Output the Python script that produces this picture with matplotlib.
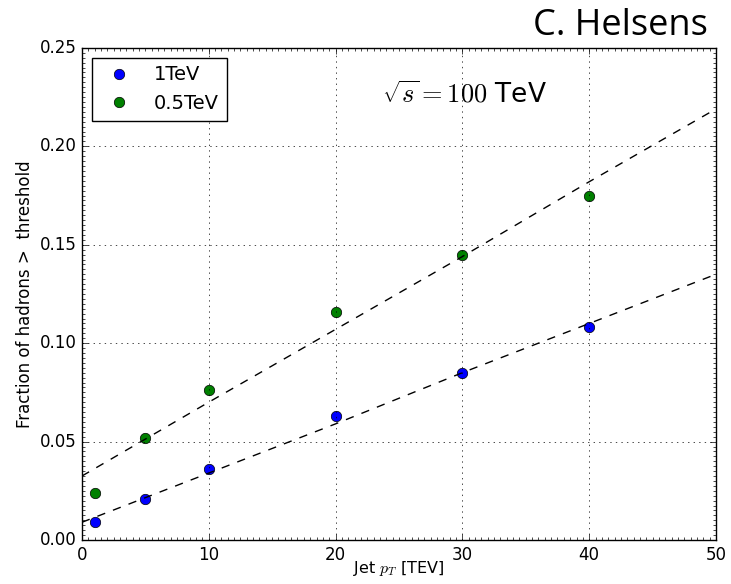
import matplotlib
matplotlib.use("Agg")
import matplotlib.pyplot as plt
from matplotlib.ticker import MultipleLocator

# measured points
pt = [1, 5, 10, 20, 30, 40]
frac_1tev = [0.009, 0.021, 0.036, 0.063, 0.085, 0.108]
frac_05tev = [0.024, 0.052, 0.076, 0.116, 0.145, 0.175]

# dashed fit lines
fit_x = [0, 10, 20, 30, 40, 50]
fit_1tev = [0.009, 0.034, 0.059, 0.085, 0.110, 0.135]
fit_05tev = [0.0325, 0.070, 0.107, 0.144, 0.182, 0.219]

plt.style.use("classic")
plt.rcParams["mathtext.fontset"] = "cm"

fig = plt.figure(figsize=(7.31, 5.84), dpi=100, facecolor="white")
ax = fig.add_axes([0.112, 0.0753, 0.8675, 0.8427])

ax.plot(pt, frac_1tev, "o", color="b", markersize=7.5, label="1TeV")
ax.plot(pt, frac_05tev, "o", color="g", markersize=7.5, label="0.5TeV")
ax.plot(fit_x, fit_1tev, "k--")
ax.plot(fit_x, fit_05tev, "k--")

ax.set_xlim(0, 50)
ax.set_ylim(0, 0.25)
ax.set_xticks([0, 10, 20, 30, 40, 50])
ax.set_yticks([0, 0.05, 0.10, 0.15, 0.20, 0.25])
ax.xaxis.set_minor_locator(MultipleLocator(0.5))
ax.yaxis.set_minor_locator(MultipleLocator(0.0025))
ax.tick_params(which="minor", length=2, width=0.5)
ax.grid(True)
ax.tick_params(labelsize=12)
ax.tick_params(axis="x", pad=4)

ax.set_xlabel("Jet $p_T$ [TEV]", fontsize=11.5, labelpad=-3)
ax.set_ylabel("Fraction of hadrons >  threshold", fontsize=12, labelpad=4)

ax.legend(loc="upper left", numpoints=1, fontsize=14, fancybox=False)

ax.text(0.604, 0.904, r"$\sqrt{s} = 100$ TeV", transform=ax.transAxes,
        ha="center", va="center", fontsize=19)

fig.text(0.968, 0.955, "C. Helsens", ha="right", va="center",
         fontsize=26, family="Open Sans")

fig.savefig("out.png", dpi=100, facecolor="white")
